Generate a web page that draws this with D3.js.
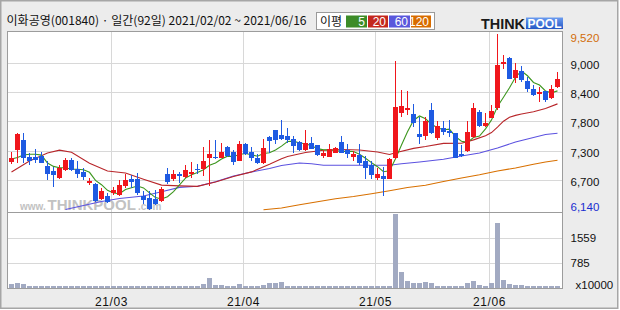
<!DOCTYPE html>
<html><head><meta charset="utf-8">
<script src="https://cdn.jsdelivr.net/npm/d3@7/dist/d3.min.js"></script>
<style>
html,body{margin:0;padding:0;background:#fff;}
svg{display:block;}
text{font-family:"Liberation Sans",Arial,sans-serif;}
</style></head><body>
<svg id="chart" width="620" height="310"></svg>
<script>
// ---------------- data ----------------
const title = "이화공영(001840) · 일간(92일) 2021/02/02 ~ 2021/06/16";
const maLegendTitle = "이평";
const maLegend = ["5", "20", "60", "120"];
const monthLabels = ["21/03", "21/04", "21/05", "21/06"];
const monthStartDays = [17, 39, 61, 80];
const watermarkParts = ["www.", "THINKPOOL", ".com"];

const opens  = [7060,7300,7480,7160,7160,7180,6990,6880,6760,6900,7100,6920,6870,6650,6640,6360,6400,6460,6430,6610,6730,6740,6410,6370,6360,6320,6840,6740,6840,6770,6830,6930,6930,7140,7160,7140,7350,7250,7090,7410,7250,7140,7040,7540,7670,7580,7560,7500,7450,7290,7430,7380,7180,7160,7240,7450,7290,7160,7190,7090,7000,6750,6800,6740,7140,8010,8060,7980,7590,7570,8060,7520,7710,7660,7610,7210,7280,7550,8030,7760,7910,8100,8950,9060,8670,8810,8620,8460,8360,8420,8300,8510];
const highs  = [7260,7620,7610,7230,7320,7250,7080,6960,7000,7140,7130,7080,6940,6750,6660,6570,6460,6590,6710,6830,6820,6850,6510,6510,6530,6580,6950,6910,6870,7000,7060,7020,7350,7480,7480,7430,7360,7300,7460,7430,7350,7220,7500,7570,7680,7860,7710,7570,7460,7680,7540,7390,7300,7410,7350,7560,7410,7280,7410,7170,7080,6950,6960,7130,9010,8440,8430,8180,7930,7930,8190,7840,7840,7870,7620,7390,7840,8190,8060,8000,8160,9520,9120,9070,8960,8910,8700,8540,8500,8420,8550,8790];
const lows   = [7020,7040,7040,7000,7040,7040,6720,6580,6740,6880,6880,6760,6720,6620,6300,6330,6270,6430,6410,6560,6560,6420,6260,6140,6240,6300,6630,6690,6650,6750,6750,6840,6790,6600,7110,7130,7160,7010,7080,7200,7080,7020,7020,7240,7410,7490,7430,7240,7280,7280,7310,7170,7130,7150,7235,7230,7130,7080,7010,6740,6740,6720,6410,6735,7120,7930,7960,7730,7400,7480,7590,7480,7580,7550,7130,7160,7260,7520,7740,7740,7900,8060,8840,8650,8580,8590,8400,8320,8210,8210,8270,8490];
const closes = [7130,7600,7140,7080,7100,7050,6840,6820,6950,7100,6910,6840,6770,6700,6320,6500,6300,6520,6620,6720,6680,6460,6340,6150,6260,6550,6680,6830,6800,6900,6870,6910,7090,7220,7130,7250,7180,7060,7410,7220,7130,7040,7330,7470,7490,7500,7490,7360,7290,7420,7320,7200,7240,7310,7330,7240,7220,7220,7040,6950,6820,6830,6740,7120,8120,8140,8100,7820,7550,7850,7620,7750,7630,7610,7130,7180,7640,8100,7750,7820,8040,8930,8990,8660,8830,8640,8470,8350,8410,8260,8460,8660];
// volume, units of 10000 shares
const volumes = [120,145,115,50,65,65,50,50,50,70, 50,50,50,50,50,50,50,50,50,50, 50,50,50,50,50,50,70,50,50,50, 50,50,135,295,95,95,68,68,130,68, 50,50,100,160,140,197,75,75,50,70, 50,50,50,50,50,70,50,50,70,50, 50,50,50,70,2282,480,228,145,145,198, 140,75,75,75,75,50,140,228,104,70, 140,2012,260,135,104,104,75,75,75,50, 75,75];

const ma5 = [7120,7150,7195,7210,7210,7194,7042,6978,6952,6952,6924,6924,6914,6864,6708,6626,6518,6468,6452,6532,6568,6600,6564,6470,6378,6352,6396,6494,6624,6752,6816,6862,6914,6998,7044,7120,7174,7168,7206,7224,7200,7172,7226,7238,7292,7366,7456,7462,7426,7412,7376,7318,7294,7298,7280,7264,7268,7264,7210,7134,7050,6972,6876,6892,7126,7390,7644,7860,7946,7892,7788,7718,7680,7692,7548,7460,7438,7532,7560,7698,7870,8128,8306,8488,8690,8810,8718,8590,8540,8426,8390,8428];
const ma20Days = [0,3,6,8,10,13,16,19,22,25,28,31,34,37,40,43,45,46,49,52,55,58,61,63,64,67,69,72,75,77,79,80,81,82,83,84,85,87,89,91];
const ma20Vals = [6870,7080,7235,7290,7250,7040,6890,6850,6731,6618,6603,6594,6677,6785,6872,7017,7126,7166,7243,7288,7302,7293,7254,7207,7238,7324,7358,7420,7422,7487,7566,7627,7732,7845,7922,7957,7982,8027,8091,8178];
const ma60Days = [9,12,15,18,22,25,28,31,34,37,40,43,45,48,50,52,58,63,65,68,72,75,78,81,84,87,89,91];
const ma60Vals = [6150,6226,6303,6361,6409,6491,6574,6595,6683,6793,6870,6937,6995,7043,7029,6998,6998,6998,7029,7062,7114,7177,7235,7331,7446,7532,7590,7613];
const ma120Days = [42,45,48,51,54,57,60,63,66,69,72,75,78,81,84,87,89,91];
const ma120Vals = [6146,6178,6240,6297,6357,6399,6453,6511,6572,6614,6687,6755,6816,6889,6947,7018,7062,7094];

const priceGridVals = [8963, 8400, 7843, 7267, 6710];
const priceGridLabels = ["9,000", "8,400", "7,800", "7,300", "6,700"];
const volGridVals = [1559, 785];
const volUnitLabel = "x10000";

// ---------------- styles ----------------
const UP = "#f0161c", DOWN = "#1e5ae2", VOLC = "#a2aac2";
const MA_COLORS = ["#3c961e", "#b8262a", "#5c52e0", "#d87000"];
const LEGEND_BOX = ["#3c8c28", "#c4281e", "#5a58dc", "#d86c00"];
const GRID = "#d8d8d8";

const svg = d3.select("#chart");
const defs = svg.append("defs");
svg.append("rect").attr("width", 620).attr("height", 310).attr("fill", "#fff");
svg.append("rect").attr("x", 0.75).attr("y", 0.75).attr("width", 617).attr("height", 307.5)
  .attr("fill", "#ececec").attr("stroke", "#a6a6a6").attr("stroke-width", 1.5);

// header
svg.append("text").attr("x", 6.5).attr("y", 25)
  .style("font-family", "'Noto Sans CJK KR', sans-serif").attr("font-size", 12).attr("fill", "#111")
  .attr("textLength", 300).attr("lengthAdjust", "spacingAndGlyphs").text(title);

// MA legend
const lg = svg.append("g");
lg.append("rect").attr("x", 316.5).attr("y", 12.5).attr("width", 118).attr("height", 17)
  .attr("fill", "#fff").attr("stroke", "#9a9a9a");
lg.append("text").attr("x", 320).attr("y", 25.5)
  .style("font-family", "'Noto Sans CJK KR', sans-serif").attr("font-size", 12).attr("fill", "#111").text(maLegendTitle);
const boxX = d3.scaleLinear().domain([0, maLegend.length]).range([346, 432]);
maLegend.forEach((t, k) => {
  const x0 = Math.round(boxX(k)), x1 = Math.round(boxX(k + 1)) - 1;
  lg.append("rect").attr("x", x0).attr("y", 15.5).attr("width", x1 - x0).attr("height", 12).attr("fill", LEGEND_BOX[k]);
  lg.append("text").attr("x", x1 - 2).attr("y", 26).attr("text-anchor", "end")
    .attr("font-size", 12).attr("fill", "#fff").text(t);
});

// THINKPOOL logo
const logo = svg.append("g");
logo.append("text").attr("x", 481).attr("y", 28.5).attr("font-size", 14).attr("font-weight", 900)
  .attr("fill", "#1a1a1a").attr("textLength", 44).attr("lengthAdjust", "spacingAndGlyphs").text("THINK");
const lgGrad = defs.append("linearGradient").attr("id", "lgp").attr("x1", 0).attr("y1", 0).attr("x2", 0).attr("y2", 1);
lgGrad.append("stop").attr("offset", 0).attr("stop-color", "#6b9cf0");
lgGrad.append("stop").attr("offset", 1).attr("stop-color", "#2457c4");
logo.append("rect").attr("x", 526).attr("y", 17.5).attr("width", 37).attr("height", 11.5).attr("fill", "url(#lgp)");
logo.append("text").attr("x", 527.5).attr("y", 28.3).attr("font-size", 13).attr("font-weight", 900)
  .attr("fill", "#fff").attr("textLength", 34).attr("lengthAdjust", "spacingAndGlyphs").text("POOL");

// plot frame
const plotL = 7.5, plotR = 562.5, plotT = 31.5, sepY = 212.5, plotB = 288.5;
svg.append("rect").attr("x", plotL).attr("y", plotT).attr("width", plotR - plotL).attr("height", plotB - plotT)
  .attr("fill", "#fff");

const n = closes.length;
const x = d3.scaleLinear().domain([0, n - 1]).range([11.5, 557.5]);
const y = d3.scaleLinear().domain([d3.min(lows), d3.max(highs)]).range([210, 34]);
const yv = d3.scaleLinear().domain([0, 2353]).range([288, 212]);

const grid = svg.append("g").attr("shape-rendering", "crispEdges");
priceGridVals.forEach(v => {
  const yy = Math.round(y(v)) + 0.5;
  grid.append("line").attr("x1", plotL).attr("x2", plotR).attr("y1", yy).attr("y2", yy).attr("stroke", GRID);
});
volGridVals.forEach(v => {
  const yy = Math.round(yv(v)) + 0.5;
  grid.append("line").attr("x1", plotL).attr("x2", plotR).attr("y1", yy).attr("y2", yy).attr("stroke", GRID);
});
monthStartDays.forEach(d => {
  const xx = Math.round(x(d) - 3) + 0.5;
  grid.append("line").attr("x1", xx).attr("x2", xx).attr("y1", plotT).attr("y2", plotB).attr("stroke", GRID);
});

// watermark (three separate pieces, natural widths, small gaps)
const wmX = [20, 47.5, 138], wmS = [10, 15, 10];
watermarkParts.forEach((t, k) => {
  svg.append("text").attr("x", wmX[k]).attr("y", 209.5).attr("fill", "#c2c2c2")
    .attr("font-size", wmS[k]).attr("font-weight", 700).text(t);
});

// clip for price panel
defs.append("clipPath").attr("id", "pclip").append("rect")
  .attr("x", plotL).attr("y", plotT).attr("width", plotR - plotL).attr("height", sepY - plotT);

// moving averages
const line = d3.line().x(d => x(d[0])).y(d => y(d[1]));
const maSeries = [
  ma5.map((v, i) => [i, v]),
  ma20Days.map((d, k) => [d, ma20Vals[k]]),
  ma60Days.map((d, k) => [d, ma60Vals[k]]),
  ma120Days.map((d, k) => [d, ma120Vals[k]])
];
const maG = svg.append("g").attr("clip-path", "url(#pclip)");
[3, 2, 1, 0].forEach(k => {
  maG.append("path").attr("d", line(maSeries[k])).attr("fill", "none")
    .attr("stroke", MA_COLORS[k]).attr("stroke-width", 1.1);
});

// candles
const days = d3.range(n);
const cg = svg.append("g").attr("shape-rendering", "crispEdges").attr("clip-path", "url(#pclip)");
const col = i => closes[i] >= opens[i] ? UP : DOWN;
cg.selectAll(".wick").data(days).join("rect").attr("class", "wick")
  .attr("x", i => x(i) - 0.5).attr("width", 1)
  .attr("y", i => y(highs[i])).attr("height", i => Math.max(1, y(lows[i]) - y(highs[i])))
  .attr("fill", col);
cg.selectAll(".body").data(days).join("rect").attr("class", "body")
  .attr("x", i => x(i) - 2.5).attr("width", 5)
  .attr("y", i => y(Math.max(opens[i], closes[i])))
  .attr("height", i => Math.max(1, Math.abs(y(opens[i]) - y(closes[i]))))
  .attr("fill", col);

// volume
svg.append("g").attr("shape-rendering", "crispEdges").selectAll("rect").data(days).join("rect")
  .attr("x", i => x(i) - 2.5).attr("width", 5)
  .attr("y", i => yv(volumes[i])).attr("height", i => yv(0) - yv(volumes[i]))
  .attr("fill", VOLC);

// frame lines on top
const fr = svg.append("g").attr("shape-rendering", "crispEdges");
fr.append("rect").attr("x", plotL).attr("y", plotT).attr("width", plotR - plotL).attr("height", plotB - plotT)
  .attr("fill", "none").attr("stroke", "#9c9c9c");
fr.append("line").attr("x1", plotL).attr("x2", plotR).attr("y1", sepY).attr("y2", sepY).attr("stroke", "#9c9c9c");

// right axis labels
const ax = svg.append("g").attr("font-size", 11.5);
const yMax = d3.max(highs), yMin = d3.min(lows);
ax.append("text").attr("x", 570.5).attr("y", y(yMax) + 4.3).attr("dy", "0.36em").attr("fill", "#d26c08").text(d3.format(",")(yMax));
priceGridVals.forEach((v, k) => {
  ax.append("text").attr("x", 570.5).attr("y", y(v) + 1.5).attr("dy", "0.36em").attr("fill", "#111").text(priceGridLabels[k]);
});
ax.append("text").attr("x", 570.5).attr("y", y(yMin) - 2.7).attr("dy", "0.36em").attr("fill", "#1a2ed0").text(d3.format(",")(yMin));
volGridVals.forEach(v => {
  ax.append("text").attr("x", 570.5).attr("y", yv(v) + 0.3).attr("dy", "0.36em").attr("fill", "#111").text(String(v));
});
ax.append("text").attr("x", 575.5).attr("y", 285).attr("dy", "0.36em").attr("fill", "#111").text(volUnitLabel);

// x labels
monthStartDays.forEach((d, k) => {
  svg.append("text").attr("x", x(d) - 2).attr("y", 305.5).attr("text-anchor", "middle")
    .attr("font-size", 12).attr("fill", "#111").attr("letter-spacing", 0.6).text(monthLabels[k]);
});
</script>
</body></html>
